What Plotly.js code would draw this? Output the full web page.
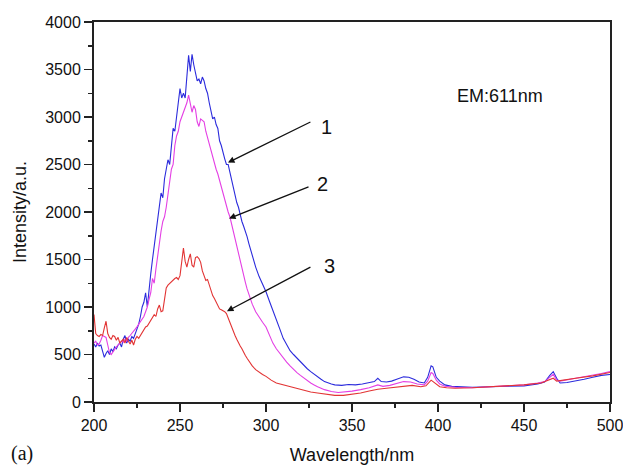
<!DOCTYPE html>
<html>
<head>
<meta charset="utf-8">
<script src="https://cdn.plot.ly/plotly-3.0.1.min.js"></script>
<style>html,body{margin:0;padding:0;background:#fff;}#chart{width:623px;height:465px;}</style>
</head>
<body>
<div id="chart"></div>
<script>
// Sample 1 (blue)
const x1 = [200,201,202,203,204,205,206,207,208,209,210,211,212,213,214,215,216,217,218,219,220,221,222,223,224,225,226,227,228,229,230,231,232,233,234,235,236,237,238,239,240,241,242,243,244,245,246,247,248,249,250,251,252,253,254,255,256,257,258,259,260,261,262,263,264,265,266,267,268,269,270,271,272,273,274,275,276,277,278,279,280,281,282,283,284,285,286,287,288,289,290,292,294,296,298,300,302,304,306,308,310,312,314,316,318,320,322,324,326,328,330,332,334,336,338,340,344,348,352,356,360,363,365,367,370,373,376,380,383,386,389,392,394,396,397,399,401,404,408,412,420,430,440,450,458,462,465,467,469,471,475,480,485,490,495,500];
const y1 = [610,580,620,590,600,520,470,510,540,500,560,530,580,560,600,620,580,660,700,620,660,640,690,670,720,760,820,900,1000,1050,1150,1000,1200,1350,1500,1650,1800,1950,2050,2200,2150,2350,2450,2550,2500,2700,2880,2850,3000,3150,3300,3200,3250,3200,3450,3650,3480,3660,3550,3450,3380,3400,3350,3420,3380,3300,3250,3150,3050,2980,3000,2920,2880,2750,2700,2620,2560,2500,2500,2420,2330,2250,2180,2100,2050,1970,1900,1850,1800,1740,1670,1540,1420,1320,1240,1160,1060,970,880,770,670,600,540,500,460,430,380,350,320,290,260,240,215,200,190,180,175,185,180,190,200,215,250,215,210,220,240,265,260,240,210,200,260,380,370,260,220,180,165,160,155,160,165,170,190,210,280,320,250,200,205,220,240,260,280,290];

// Sample 2 (magenta)
const x2 = [200,201,202,203,204,205,206,207,208,209,210,211,212,213,214,215,216,217,218,219,220,221,222,223,224,225,226,227,228,229,230,231,232,233,234,235,236,237,238,239,240,241,242,243,244,245,246,247,248,249,250,251,252,253,254,255,256,257,258,259,260,261,262,263,264,265,266,267,268,269,270,271,272,273,274,275,276,277,278,279,280,281,282,283,284,285,286,287,288,289,290,292,294,296,298,300,302,304,306,308,310,312,314,316,318,320,322,324,326,328,330,334,338,342,346,350,355,360,365,368,372,376,380,384,388,392,394,396,397,399,401,404,410,420,430,440,450,458,462,465,467,469,471,480,490,495,500];
const y2 = [620,640,600,610,650,700,690,680,600,520,500,530,560,580,600,620,640,630,660,640,680,700,720,740,760,790,820,850,870,900,950,1000,1080,1150,1300,1250,1400,1550,1700,1800,1900,1950,2050,2200,2300,2450,2500,2700,2800,2850,2950,3000,3050,3100,3150,3230,3150,3050,3120,3080,2950,2900,2980,2960,2950,2850,2780,2700,2650,2580,2520,2450,2400,2330,2250,2180,2120,2050,2000,1950,1870,1800,1720,1650,1570,1490,1410,1330,1260,1190,1130,1030,950,890,840,790,700,620,560,510,470,420,380,340,310,280,250,220,200,180,160,130,110,100,105,115,130,150,180,165,175,195,215,210,190,180,220,310,300,230,190,165,155,150,160,170,180,200,215,260,290,230,220,250,280,300,320];

// Sample 3 (red)
const x3 = [200,201,202,203,204,205,206,207,208,209,210,211,212,213,214,215,216,217,218,219,220,221,222,223,224,225,226,227,228,229,230,231,232,233,234,235,236,237,238,239,240,241,242,243,244,245,246,247,248,249,250,251,252,253,254,255,256,257,258,259,260,261,262,263,264,265,266,267,268,269,270,271,272,273,274,275,276,277,278,279,280,281,282,283,284,285,286,287,288,289,290,292,294,296,298,300,303,306,310,314,318,322,326,330,335,340,345,350,355,360,365,370,375,380,385,390,393,396,398,401,405,410,420,430,440,450,460,465,467,469,475,480,490,500];
const y3 = [920,720,700,690,710,700,780,850,720,680,660,700,690,650,680,620,640,660,620,680,640,610,650,600,660,690,670,700,720,760,790,800,830,850,880,920,900,980,1020,950,960,1100,1200,1230,1250,1270,1290,1300,1310,1290,1330,1450,1620,1480,1420,1500,1560,1440,1420,1520,1530,1510,1470,1380,1320,1280,1290,1230,1170,1120,1090,1050,1010,980,970,960,950,930,880,840,780,740,700,660,620,590,560,520,490,460,430,380,340,310,290,270,230,200,180,160,140,120,105,95,80,70,70,80,95,115,135,145,155,170,175,160,170,230,200,160,150,145,150,160,170,180,200,230,250,220,240,250,275,310];

const font = 'Liberation Sans, Arial, sans-serif';
const tickFont = {family: font, size: 16, color: '#111'};

const traces = [
  {x: x1, y: y1, mode: 'lines', line: {color: '#2b2bdc', width: 1.1}, name: '1'},
  {x: x2, y: y2, mode: 'lines', line: {color: '#e43fe4', width: 1.1}, name: '2'},
  {x: x3, y: y3, mode: 'lines', line: {color: '#e23434', width: 1.1}, name: '3'}
];

const arrow = (x, y, ax, ay) => ({x, y, ax, ay, xref: 'x', yref: 'y', axref: 'x', ayref: 'y',
  showarrow: true, arrowhead: 2, arrowsize: 1, arrowwidth: 1.3, arrowcolor: '#111', text: ''});
const label = (x, y, t, size) => ({x, y, xref: 'x', yref: 'y', text: t, showarrow: false,
  font: {family: font, size: size, color: '#111'}});

const layout = {
  width: 623, height: 465,
  margin: {l: 94, r: 13, t: 22, b: 63},
  paper_bgcolor: '#fff', plot_bgcolor: '#fff',
  showlegend: false,
  xaxis: {
    range: [200, 500], tickvals: [200, 250, 300, 350, 400, 450, 500],
    ticklabeloverflow: 'allow',
    showgrid: false, zeroline: false,
    showline: true, linecolor: '#222', linewidth: 2, mirror: true,
    ticks: 'outside', ticklen: 8, tickwidth: 1.5, tickcolor: '#222',
    minor: {dtick: 25, tick0: 200, ticks: 'outside', ticklen: 4, tickwidth: 1.5, tickcolor: '#222', showgrid: false},
    tickfont: tickFont,
    title: {text: 'Wavelength/nm', font: {family: font, size: 18, color: '#111'}, standoff: 22}
  },
  yaxis: {
    range: [0, 4000], tickvals: [0, 500, 1000, 1500, 2000, 2500, 3000, 3500, 4000],
    showgrid: false, zeroline: false,
    showline: true, linecolor: '#222', linewidth: 2, mirror: true,
    ticks: 'outside', ticklen: 8, tickwidth: 1.5, tickcolor: '#222',
    minor: {dtick: 250, tick0: 0, ticks: 'outside', ticklen: 4, tickwidth: 1.5, tickcolor: '#222', showgrid: false},
    tickfont: tickFont,
    title: {text: 'Intensity/a.u.', font: {family: font, size: 18, color: '#111'}, standoff: 14}
  },
  annotations: [
    arrow(277.9, 2520, 326.7, 2955),
    arrow(278.5, 1932, 325.6, 2270),
    arrow(277.3, 955, 326.7, 1428),
    label(335, 2900, '1', 20),
    label(332.6, 2291, '2', 20),
    label(337.2, 1428, '3', 20),
    label(436, 3220, 'EM:611nm', 18),
    {x: -0.1395, y: -0.135, xref: 'paper', yref: 'paper', xanchor: 'center', yanchor: 'middle',
     showarrow: false, text: '(a)', font: {family: 'Liberation Serif, Times New Roman, serif', size: 20, color: '#111'}}
  ]
};

Plotly.newPlot('chart', traces, layout, {displayModeBar: false, staticPlot: true});
</script>
</body>
</html>
